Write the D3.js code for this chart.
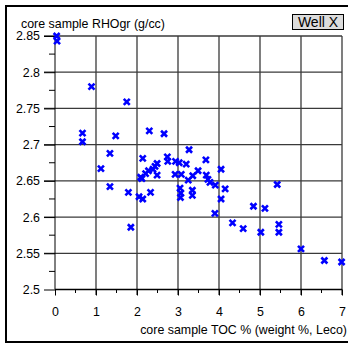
<html>
  <head>
    <meta charset="utf-8">
    <title>RHOgr vs TOC</title>
    <style>
      body { margin: 0; background: #fff; }
      text { font-family: "Liberation Sans", Arial, sans-serif; fill: #000; }
      .grid line { stroke: #3a3a3a; stroke-width: 1.3; }
      .axis path, .axis line { stroke: #000; }
    </style>
    <script src="https://d3js.org/d3.v7.min.js"></script>
  </head>
  <body>
    <svg id="chart" width="348" height="345"></svg>
    <script>
      // core sample TOC (weight %) vs grain density
      var toc = [0.04, 0.05, 0.89, 1.75, 0.67, 0.67, 1.48, 1.34, 1.12, 1.34,
                 1.79, 1.85, 2.05, 2.14, 2.14, 2.30, 2.66, 3.27, 2.09, 2.12,
                 2.21, 2.28, 2.39, 2.44, 2.49, 2.49, 2.33, 2.74, 2.75, 2.94,
                 3.03, 3.20, 2.93, 3.08, 3.25, 3.36, 3.49, 3.68, 3.69, 3.73,
                 3.78, 3.91, 4.05, 4.15, 4.05, 3.05, 3.07, 3.06, 3.35, 3.35,
                 3.90, 4.33, 4.59, 4.84, 5.12, 5.02, 5.42, 5.46, 5.46, 6.00,
                 6.57, 6.99]
      var rhogr = [2.850, 2.843, 2.780, 2.759, 2.716, 2.704, 2.712, 2.688, 2.667, 2.642,
                   2.634, 2.586, 2.628, 2.625, 2.681, 2.719, 2.715, 2.693, 2.655, 2.653,
                   2.660, 2.664, 2.666, 2.670, 2.674, 2.658, 2.634, 2.683, 2.677, 2.677,
                   2.675, 2.673, 2.659, 2.659, 2.651, 2.657, 2.664, 2.679, 2.658, 2.652,
                   2.648, 2.644, 2.666, 2.639, 2.625, 2.640, 2.633, 2.627, 2.637, 2.630,
                   2.605, 2.592, 2.584, 2.615, 2.612, 2.579, 2.645, 2.590, 2.579, 2.556,
                   2.540, 2.538]
      var xTicks = [0, 1, 2, 3, 4, 5, 6, 7]
      var yTicks = [2.5, 2.55, 2.6, 2.65, 2.7, 2.75, 2.8, 2.85]
      var xTitle = "core sample TOC % (weight %, Leco)"
      var yTitle = "core sample RHOgr (g/cc)"
      var wellName = "Well X"

      var svg = d3.select("#chart")

      var x = d3.scaleLinear().domain([0, 7]).range([55, 342])
      var y = d3.scaleLinear().domain([2.5, 2.85]).range([289.5, 36])

      // outer frame
      svg.append("rect")
         .attr("x", 6).attr("y", 6)
         .attr("width", 360).attr("height", 336)
         .attr("fill", "none")
         .attr("stroke", "#000")
         .attr("stroke-width", 2)

      // grid
      var grid = svg.append("g").attr("class", "grid")
      grid.selectAll("line.h")
          .data(yTicks.slice(1))
          .join("line")
          .attr("class", "h")
          .attr("x1", 44).attr("x2", x(7))
          .attr("y1", d => y(d)).attr("y2", d => y(d))
      grid.selectAll("line.v")
          .data(xTicks.slice(1))
          .join("line")
          .attr("class", "v")
          .attr("x1", d => x(d)).attr("x2", d => x(d))
          .attr("y1", y(2.85)).attr("y2", 295)

      // minor ticks
      var minorY = d3.range(2.525, 2.85, 0.05)
      var minorX = d3.range(0.5, 7, 1)
      svg.append("g").selectAll("line")
         .data(minorY)
         .join("line")
         .attr("x1", 49).attr("x2", x(0))
         .attr("y1", d => y(d)).attr("y2", d => y(d))
         .attr("stroke", "#000")
      svg.append("g").selectAll("line")
         .data(minorX)
         .join("line")
         .attr("x1", d => x(d)).attr("x2", d => x(d))
         .attr("y1", y(2.5)).attr("y2", 293)
         .attr("stroke", "#000")

      // axes
      var yAxis = d3.axisLeft(y)
                    .tickValues(yTicks)
                    .tickSize(11)
                    .tickPadding(4)
                    .tickFormat(d3.format(""))
      svg.append("g")
         .attr("class", "axis")
         .attr("transform", "translate(" + x(0) + ",0)")
         .call(yAxis)
         .call(g => g.select(".domain").attr("d", "M0," + y(2.85) + "V" + y(2.5)))
         .selectAll("text")
         .style("font-size", "12.4px")

      var xAxis = d3.axisBottom(x)
                    .tickValues(xTicks)
                    .tickSize(6)
                    .tickPadding(12)
                    .tickFormat(d3.format("d"))
      svg.append("g")
         .attr("class", "axis")
         .attr("transform", "translate(0," + y(2.5) + ")")
         .call(xAxis)
         .call(g => g.select(".domain").attr("d", "M" + x(0) + ",0H" + x(7)).attr("stroke", "#444").attr("stroke-width", 1.5))
         .selectAll("text")
         .style("font-size", "12.4px")

      svg.selectAll(".axis text").attr("font-family", null)

      // titles
      svg.append("text")
         .attr("x", 21).attr("y", 28)
         .style("font-size", "12.4px")
         .text(yTitle)
      svg.append("text")
         .attr("x", 347).attr("y", 334)
         .attr("text-anchor", "end")
         .style("font-size", "12.4px")
         .text(xTitle)

      // well label box
      svg.append("rect")
         .attr("x", 292.5).attr("y", 14.5)
         .attr("width", 51).attr("height", 15)
         .attr("fill", "#dcdcdc")
         .attr("stroke", "#000")
      svg.append("text")
         .attr("x", 318).attr("y", 27)
         .attr("text-anchor", "middle")
         .style("font-size", "14px")
         .text(wellName)

      // points
      var pts = toc.map((t, i) => [t, rhogr[i]])
      var s = 3
      svg.append("g").selectAll("path")
         .data(pts)
         .join("path")
         .attr("d", d => {
           var cx = x(d[0]), cy = y(d[1])
           return "M" + (cx - s) + "," + (cy - s) + "L" + (cx + s) + "," + (cy + s) +
                  "M" + (cx - s) + "," + (cy + s) + "L" + (cx + s) + "," + (cy - s)
         })
         .attr("stroke", "#0000ff")
         .attr("stroke-width", 2.6)
         .attr("fill", "none")
    </script>
  </body>
</html>
